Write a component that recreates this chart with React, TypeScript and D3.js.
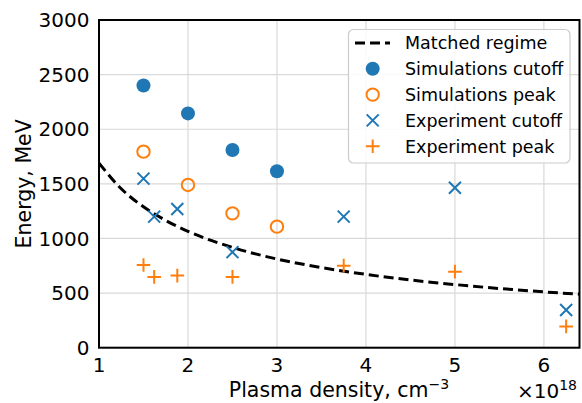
import React from "react";
import * as d3 from "d3";

const xTicks = [1, 2, 3, 4, 5, 6];
const yTicks = [0, 500, 1000, 1500, 2000, 2500, 3000];

// Matched regime curve
const matchedX = [1, 1.25, 1.5, 1.75, 2, 2.5, 3, 3.5, 4, 4.5, 5, 5.5, 6, 6.4];
const matchedY = [1690, 1455, 1290, 1165, 1065, 918, 812, 734, 671, 620, 578, 542, 511, 490];

const simCutoffX = [1.5, 2, 2.5, 3];
const simCutoffY = [2400, 2145, 1810, 1615];

const simPeakX = [1.5, 2, 2.5, 3];
const simPeakY = [1795, 1490, 1230, 1108];

const expCutoffX = [1.5, 1.62, 1.88, 2.5, 3.75, 5, 6.25];
const expCutoffY = [1548, 1200, 1270, 875, 1200, 1465, 345];

const expPeakX = [1.5, 1.62, 1.88, 2.5, 3.75, 5, 6.25];
const expPeakY = [757, 648, 660, 648, 751, 696, 195];

const legendLabels = [
  "Matched regime",
  "Simulations cutoff",
  "Simulations peak",
  "Experiment cutoff",
  "Experiment peak",
];

const BLUE = "#1f77b4";
const ORANGE = "#ff7f0e";
const FONT = "DejaVu Sans";

const W = 582;
const H = 403;
const L = 99;
const R = 579.5;
const T = 20;
const B = 347.7;

export default function App() {
  const x = d3.scaleLinear().domain([1, 6.4]).range([L, R]);
  const y = d3.scaleLinear().domain([0, 3000]).range([B, T]);

  const line = d3
    .line<number>()
    .x((_, i) => x(matchedX[i]))
    .y((d) => y(d))
    .curve(d3.curveMonotoneX);

  const cross = (cx: number, cy: number, s: number, color: string, key: string) => (
    <path
      key={key}
      d={`M${cx - s},${cy - s}L${cx + s},${cy + s}M${cx - s},${cy + s}L${cx + s},${cy - s}`}
      stroke={color}
      strokeWidth={2}
      fill="none"
    />
  );
  const plus = (cx: number, cy: number, s: number, color: string, key: string) => (
    <path
      key={key}
      d={`M${cx - s},${cy}L${cx + s},${cy}M${cx},${cy - s}L${cx},${cy + s}`}
      stroke={color}
      strokeWidth={2}
      fill="none"
    />
  );

  const legX = 348.5;
  const legY = 29.5;
  const legW = 221.5;
  const legH = 133.5;
  const rowY = (i: number) => 43 + i * 25.8;
  const mX = 372.7;

  return (
    <svg
      width={W}
      height={H}
      style={{ position: "absolute", left: 0, top: 0 }}
      fontFamily={FONT}
    >
      <rect x={0} y={0} width={W} height={H} fill="white" />
      <defs>
        <clipPath id="plotclip">
          <rect x={L} y={T} width={R - L} height={B - T} />
        </clipPath>
      </defs>
      {/* grid */}
      {xTicks.map((t) => (
        <line key={"gx" + t} x1={x(t)} x2={x(t)} y1={T} y2={B} stroke="#d9d9d9" strokeWidth={1.2} />
      ))}
      {yTicks.map((t) => (
        <line key={"gy" + t} x1={L} x2={R} y1={y(t)} y2={y(t)} stroke="#d9d9d9" strokeWidth={1.2} />
      ))}

      <g clipPath="url(#plotclip)">
        <path d={line(matchedY) || ""} fill="none" stroke="black" strokeWidth={3} strokeDasharray="10,5" />
      </g>

      {simCutoffX.map((v, i) => (
        <circle key={"sc" + i} cx={x(v)} cy={y(simCutoffY[i])} r={7} fill={BLUE} />
      ))}
      {simPeakX.map((v, i) => (
        <circle key={"sp" + i} cx={x(v)} cy={y(simPeakY[i])} r={6.2} fill="none" stroke={ORANGE} strokeWidth={2} />
      ))}
      {expCutoffX.map((v, i) => cross(x(v), y(expCutoffY[i]), 6, BLUE, "ec" + i))}
      {expPeakX.map((v, i) => plus(x(v), y(expPeakY[i]), 6.8, ORANGE, "ep" + i))}

      {/* spines */}
      <rect x={L} y={T} width={R - L} height={B - T} fill="none" stroke="black" strokeWidth={2} />

      {/* tick labels */}
      {xTicks.map((t) => (
        <text key={"tx" + t} x={x(t)} y={371.5} fontSize={20} textAnchor="middle" fill="#000">
          {t}
        </text>
      ))}
      {yTicks.map((t) => (
        <text key={"ty" + t} x={89.5} y={y(t)} dy="0.36em" fontSize={20} textAnchor="end" fill="#000">
          {t}
        </text>
      ))}

      {/* axis labels */}
      <text x={339} y={397} fontSize={20.5} textAnchor="middle" fill="#000">
        Plasma density, cm
        <tspan dy={-8} fontSize={14}>−3</tspan>
      </text>
      <text
        transform={`translate(31,${(T + B) / 2}) rotate(-90)`}
        fontSize={20.5}
        textAnchor="middle"
        fill="#000"
      >
        Energy, MeV
      </text>
      <text x={577} y={398} fontSize={20} textAnchor="end" fill="#000">
        ×10<tspan dy={-8} fontSize={14}>18</tspan>
      </text>

      {/* legend */}
      <rect x={legX} y={legY} width={legW} height={legH} rx={5} fill="white" fillOpacity={0.85} stroke="#cccccc" strokeWidth={1.2} />
      <line x1={355} x2={390} y1={rowY(0)} y2={rowY(0)} stroke="black" strokeWidth={3} strokeDasharray="10,5" />
      <circle cx={mX} cy={rowY(1)} r={7} fill={BLUE} />
      <circle cx={mX} cy={rowY(2)} r={6.2} fill="none" stroke={ORANGE} strokeWidth={2} />
      {cross(mX, rowY(3), 6, BLUE, "lc")}
      {plus(mX, rowY(4), 6.8, ORANGE, "lp")}
      {legendLabels.map((s, i) => (
        <text key={"lg" + i} x={405} y={rowY(i)} dy="0.36em" fontSize={17.5} fill="#000">
          {s}
        </text>
      ))}
    </svg>
  );
}
